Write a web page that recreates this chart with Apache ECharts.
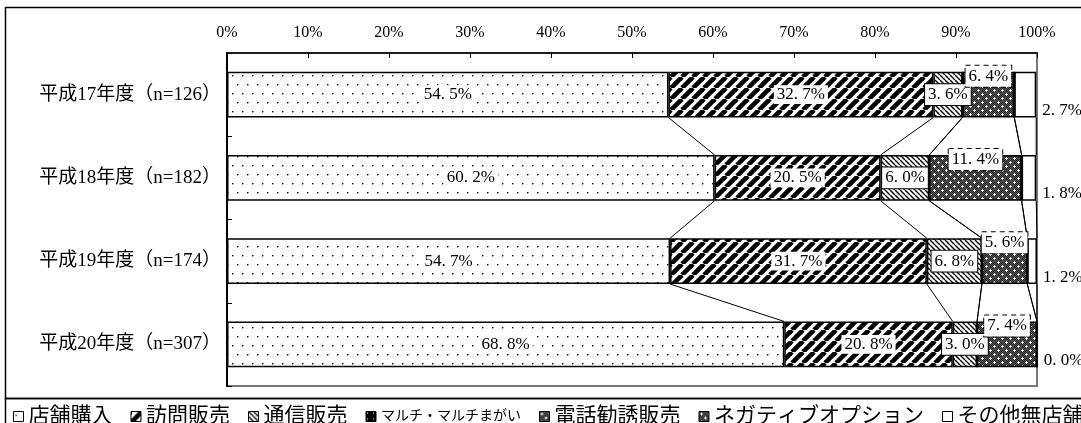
<!DOCTYPE html>
<html><head><meta charset="utf-8">
<script src="https://cdn.jsdelivr.net/npm/echarts@6/dist/echarts.min.js"></script>
<style>html,body{margin:0;padding:0;background:#fff}#c{width:1081px;height:423px}</style>
</head><body><div id="c"></div>
<script>
const categories = ['平成17年度（n=126）', '平成18年度（n=182）', '平成19年度（n=174）', '平成20年度（n=307）'];
const seriesNames = ['店舗購入', '訪問販売', '通信販売', 'マルチ・マルチまがい', '電話勧誘販売', 'ネガティブオプション', 'その他無店舗'];
const storeValues = [54.5, 60.2, 54.7, 68.8];
const visitValues = [32.7, 20.5, 31.7, 20.8];
const mailValues = [3.6, 6.0, 6.8, 3.0];
const multiValues = [0, 0, 0, 0];
const phoneValues = [6.4, 11.4, 5.6, 7.4];
const negativeValues = [0, 0, 0, 0];
const otherValues = [2.7, 1.8, 1.2, 0.0];
const xMin = 0, xMax = 100, xInterval = 10;

const allValues = [storeValues, visitValues, mailValues, multiValues, phoneValues, negativeValues, otherValues];

function tile(w, h, draw) {
  const c = document.createElement('canvas');
  c.width = w; c.height = h;
  const g = c.getContext('2d');
  draw(g, w, h);
  return { image: c, repeat: 'repeat' };
}
const patDots = tile(10, 18, (g, w, h) => {
  g.fillStyle = '#fff'; g.fillRect(0, 0, w, h);
  g.fillStyle = '#000'; g.fillRect(2, 3, 1.4, 1.4); g.fillRect(7, 12, 1.4, 1.4);
});
const patBold = tile(11, 11, (g, w, h) => {
  g.fillStyle = '#fff'; g.fillRect(0, 0, w, h);
  g.strokeStyle = '#000'; g.lineWidth = 4.6;
  [-w, 0, w].forEach(dx => {
    g.beginPath(); g.moveTo(dx, h); g.lineTo(dx + w, 0); g.stroke();
  });
});
const patThin = tile(5, 5, (g, w, h) => {
  g.fillStyle = '#fff'; g.fillRect(0, 0, w, h);
  g.strokeStyle = '#000'; g.lineWidth = 1.4;
  [-w, 0, w].forEach(dx => { g.beginPath(); g.moveTo(dx, 0); g.lineTo(dx + w, h); g.stroke(); });
});
const patMulti = tile(6, 6, (g, w, h) => {
  g.fillStyle = '#000'; g.fillRect(0, 0, w, h);
  g.fillStyle = '#fff'; g.fillRect(1, 1, 1, 1);
});
const patGrid = tile(8, 8, (g, w, h) => {
  g.fillStyle = '#5a5a5a'; g.fillRect(0, 0, w, h);
  g.fillStyle = '#222';
  for (let y = 0; y < h; y++) for (let x = 0; x < w; x++) if ((x + y) % 2 === 0) g.fillRect(x, y, 1, 1);
  g.fillStyle = '#fff';
  g.fillRect(2, 1, 1, 3); g.fillRect(1, 2, 3, 1);
  g.fillRect(6, 5, 1, 3); g.fillRect(5, 6, 3, 1);
});
const patterns = [patDots, patBold, patThin, patMulti, patGrid, patGrid, '#fff'];

const fontJP = '"Liberation Serif", "Noto Sans CJK JP", serif';
function fmt(v) { return v.toFixed(1).replace('.', '. ') + '%'; }

const plainLabel = { show: true, position: 'inside', color: '#000', fontSize: 17, fontFamily: fontJP,
  backgroundColor: '#fff', padding: [1, 3], formatter: p => fmt(p.value) };
const labelStyles = [
  plainLabel,
  plainLabel,
  Object.assign({}, plainLabel, { borderColor: '#000', borderWidth: 1, padding: [2, 3] }),
  { show: false },
  Object.assign({}, plainLabel, { position: 'top', distance: -15, borderColor: '#000', borderWidth: 1,
    borderType: [5, 4], padding: [2, 3] }),
  { show: false },
  { show: true, position: 'right', distance: 6, offset: [0, 16], color: '#000', fontSize: 17,
    fontFamily: fontJP, formatter: p => fmt(p.value) }
];

const barSeries = seriesNames.map((name, i) => ({
  name, type: 'bar', stack: 'total', barCategoryGap: '45%',
  data: allValues[i],
  itemStyle: { color: patterns[i], borderColor: '#000', borderWidth: 1.5 },
  label: labelStyles[i],
  emphasis: { disabled: true },
  z: 3
}));

// series lines between consecutive bars at every cumulative boundary
const cumulative = categories.map((_, ci) => {
  let s = 0; return allValues.map(arr => (s += arr[ci]));
});
const lineData = [];
for (let ci = 0; ci < categories.length - 1; ci++) {
  cumulative[ci].forEach((v, k) => lineData.push([v, ci, cumulative[ci + 1][k]]));
}
const barFrac = 0.55;
const seriesLines = {
  type: 'custom', silent: true, z: 2,
  encode: { x: [0, 2], y: 1 },
  data: lineData,
  renderItem: (params, api) => {
    const ci = api.value(1);
    const p0 = api.coord([api.value(0), ci]);
    const p1 = api.coord([api.value(2), ci + 1]);
    const half = api.size([0, 1])[1] * barFrac / 2;
    return { type: 'line', shape: { x1: p0[0], y1: p0[1] + half, x2: p1[0], y2: p1[1] - half },
      style: { stroke: '#000', lineWidth: 1 } };
  }
};

const chart = echarts.init(document.getElementById('c'));
chart.setOption({
  animation: false,
  backgroundColor: '#fff',
  grid: { left: 227, right: 44, top: 53, bottom: 37, show: true, borderColor: '#777', borderWidth: 2 },
  xAxis: {
    type: 'value', position: 'top', min: xMin, max: xMax, interval: xInterval,
    axisLine: { show: true, lineStyle: { color: '#000', width: 1.5 } },
    axisTick: { show: true, inside: true, length: 5, lineStyle: { color: '#000' } },
    splitLine: { show: false },
    axisLabel: { formatter: '{value}%', color: '#000', fontSize: 16, fontFamily: fontJP, margin: 12 }
  },
  yAxis: {
    type: 'category', inverse: true, data: categories,
    axisLine: { show: true, lineStyle: { color: '#000', width: 2 } },
    axisTick: { show: true, inside: true, length: 5, lineStyle: { color: '#000' } },
    axisLabel: { color: '#000', fontSize: 19, fontFamily: fontJP, margin: 6 }
  },
  legend: {
    data: seriesNames, left: 8, top: 401, width: 1400, itemWidth: 10, itemHeight: 10, itemGap: 18,
    icon: 'rect', selectedMode: false,
    itemStyle: { borderColor: '#000', borderWidth: 1 },
    textStyle: { color: '#000', fontSize: 21, fontFamily: fontJP, padding: [0, 0, 0, 0],
      rich: { s: { fontSize: 14, fontFamily: fontJP, color: '#000' } } },
    formatter: n => n === 'マルチ・マルチまがい' ? '{s|' + n + '}' : n
  },
  graphic: [
    { type: 'rect', shape: { x: 5.5, y: 7.5, width: 1200, height: 391 }, style: { fill: 'none', stroke: '#000', lineWidth: 1.5 }, silent: true },
    { type: 'rect', shape: { x: 5.5, y: 398.5, width: 1200, height: 60 }, style: { fill: 'none', stroke: '#000', lineWidth: 1.5 }, silent: true }
  ],
  series: barSeries.concat([seriesLines])
});
</script></body></html>
